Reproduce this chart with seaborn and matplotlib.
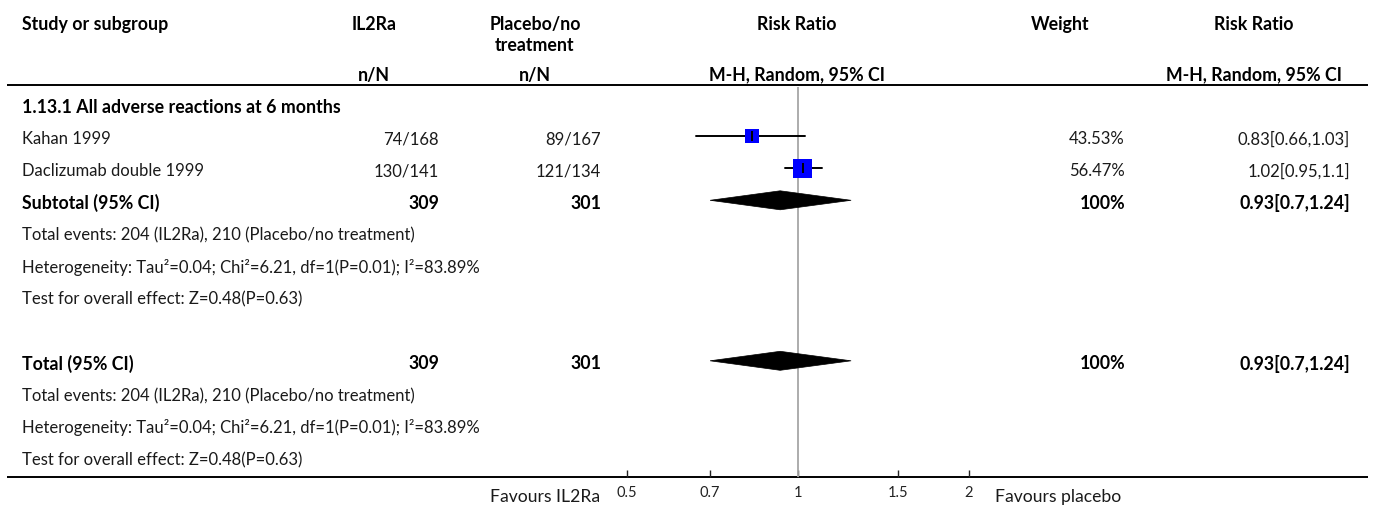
import numpy as np
import pandas as pd
import matplotlib
matplotlib.use("Agg")
import matplotlib.pyplot as plt
from matplotlib.patches import Polygon
import seaborn as sns

# ---- data ----
studies = ["Kahan 1999", "Daclizumab double 1999"]
il2ra_events = [74, 130]
il2ra_total = [168, 141]
placebo_events = [89, 121]
placebo_total = [167, 134]
rr = [0.83, 1.02]
rr_lo = [0.66, 0.95]
rr_hi = [1.03, 1.10]
weights = [43.53, 56.47]

pooled_rr, pooled_lo, pooled_hi = 0.93, 0.70, 1.24
pooled_events = [204, 210]
pooled_n = [309, 301]
heterogeneity = "Heterogeneity: Tau\u00b2=0.04; Chi\u00b2=6.21, df=1(P=0.01); I\u00b2=83.89%"
overall_test = "Test for overall effect: Z=0.48(P=0.63)"
subgroup_title = "1.13.1 All adverse reactions at 6 months"
tick_values = [0.5, 0.7, 1, 1.5, 2]
tick_labels = ["0.5", "0.7", "1", "1.5", "2"]

# ---- style ----
sns.set_theme(style="white")
plt.rcParams["font.family"] = ["Lato", "DejaVu Sans"]
FS = 12.0      # regular text
FSB = 12.8     # bold text
TXT = "#1a1a1a"
DY = 2.0       # optical nudge so cap height sits on the row centre

W, H = 1375, 506
fig = plt.figure(figsize=(W / 100, H / 100), dpi=100)

# full-figure table axes in pixel units
tab = fig.add_axes([0, 0, 1, 1])
tab.set_xlim(0, W)
tab.set_ylim(H, 0)
tab.axis("off")

# forest panel
x0, x1 = 617, 980
y_top, y_bot = 88, 478
ax = fig.add_axes([x0 / W, 1 - y_bot / H, (x1 - x0) / W, (y_bot - y_top) / H])
ax.set_xscale("log")
ax.set_xlim(0.480, 2.091)
ax.set_ylim(y_bot, y_top)
for s in ax.spines.values():
    s.set_visible(False)
ax.set_facecolor("none")
ax.set_xticks(tick_values)
ax.set_xticklabels(tick_labels)
ax.xaxis.set_minor_locator(matplotlib.ticker.NullLocator())
ax.tick_params(axis="x", direction="in", length=5, width=1, color="#222222",
               labelsize=10.5, labelcolor="#222222", pad=6, bottom=True)
ax.set_yticks([])

# row layout
row0, step = 105, 32.1
def row(i):
    return row0 + step * i

# column anchors
c_study = 22
c_il2 = 439
c_pl = 601
c_w = 1125
c_rr = 1350

bold = dict(fontsize=FSB, fontweight="bold", color="black", va="center")
reg = dict(fontsize=FS, color=TXT, va="center")

def put(x, y, s, style, ha="left"):
    tab.text(x, y + DY, s, ha=ha, **style)

# header
hy1, hy2, hy3 = 22, 43, 73
put(c_study, hy1, "Study or subgroup", bold)
put(374, hy1, "IL2Ra", bold, "center")
put(535, hy1, "Placebo/no", bold, "center")
put(535, hy2, "treatment", bold, "center")
put(797, hy1, "Risk Ratio", bold, "center")
put(1060, hy1, "Weight", bold, "center")
put(1254, hy1, "Risk Ratio", bold, "center")
put(374, hy3, "n/N", bold, "center")
put(535, hy3, "n/N", bold, "center")
put(797, hy3, "M-H, Random, 95% CI", bold, "center")
put(1254, hy3, "M-H, Random, 95% CI", bold, "center")
tab.plot([7, 1368], [86, 86], color="black", lw=1.4, solid_capstyle="butt")
tab.plot([7, 1368], [y_bot, y_bot], color="black", lw=1.4, solid_capstyle="butt")

# subgroup title
put(c_study, row(0), subgroup_title, bold)

# study rows
df = pd.DataFrame({"study": studies, "rr": rr, "lo": rr_lo, "hi": rr_hi,
                   "w": weights, "y": [row(1), row(2)]})
for i, r in df.iterrows():
    y = r["y"]
    put(c_study, y, r["study"], reg)
    put(c_il2, y, f"{il2ra_events[i]}/{il2ra_total[i]}", reg, "right")
    put(c_pl, y, f"{placebo_events[i]}/{placebo_total[i]}", reg, "right")
    put(c_w, y, f"{r['w']:.2f}%", reg, "right")
    put(c_rr, y, f"{r['rr']:g}[{r['lo']:g},{r['hi']:g}]", reg, "right")
    ax.plot([r["lo"], r["hi"]], [y, y], color="black", lw=1.4, zorder=3)

# boxes sized by weight (side length proportional to weight)
side_px = {w: w * 0.335 for w in weights}
sizes = {w: (side_px[w] * 0.72) ** 2 for w in weights}
sns.scatterplot(data=df, x="rr", y="y", size="w", sizes=sizes, marker="s",
                color="#0000ff", edgecolor="none", legend=False, ax=ax, zorder=4)
ax.scatter(df["rr"], df["y"], marker="|", s=(10 * 0.72) ** 2, color="black",
           linewidths=1.4, zorder=5)
ax.set_xlabel("")
ax.set_ylabel("")
ax.xaxis.label.set_visible(False)
ax.yaxis.label.set_visible(False)

ax.axvline(1, color="#a6a6a6", lw=1.3, zorder=1)

def diamond(y):
    half = 9.5
    poly = Polygon([[pooled_lo, y], [pooled_rr, y - half], [pooled_hi, y],
                    [pooled_rr, y + half]], closed=True, facecolor="black",
                   edgecolor="black", lw=0.5, zorder=4)
    ax.add_patch(poly)

def summary_block(start, label):
    y = row(start)
    put(c_study, y, label, bold)
    put(c_il2, y, str(pooled_n[0]), bold, "right")
    put(c_pl, y, str(pooled_n[1]), bold, "right")
    put(c_w, y, "100%", bold, "right")
    put(c_rr, y, f"{pooled_rr:g}[{pooled_lo:g},{pooled_hi:g}]", bold, "right")
    diamond(y)
    put(c_study, row(start + 1),
        f"Total events: {pooled_events[0]} (IL2Ra), {pooled_events[1]} (Placebo/no treatment)", reg)
    put(c_study, row(start + 2), heterogeneity, reg)
    put(c_study, row(start + 3), overall_test, reg)

summary_block(3, "Subtotal (95% CI)")
summary_block(8, "Total (95% CI)")

# favours labels
fav = dict(fontsize=12.6, color=TXT, va="center")
tab.text(600, 497, "Favours IL2Ra", ha="right", **fav)
tab.text(995, 497, "Favours placebo", ha="left", **fav)

fig.savefig("out.png", dpi=100)
